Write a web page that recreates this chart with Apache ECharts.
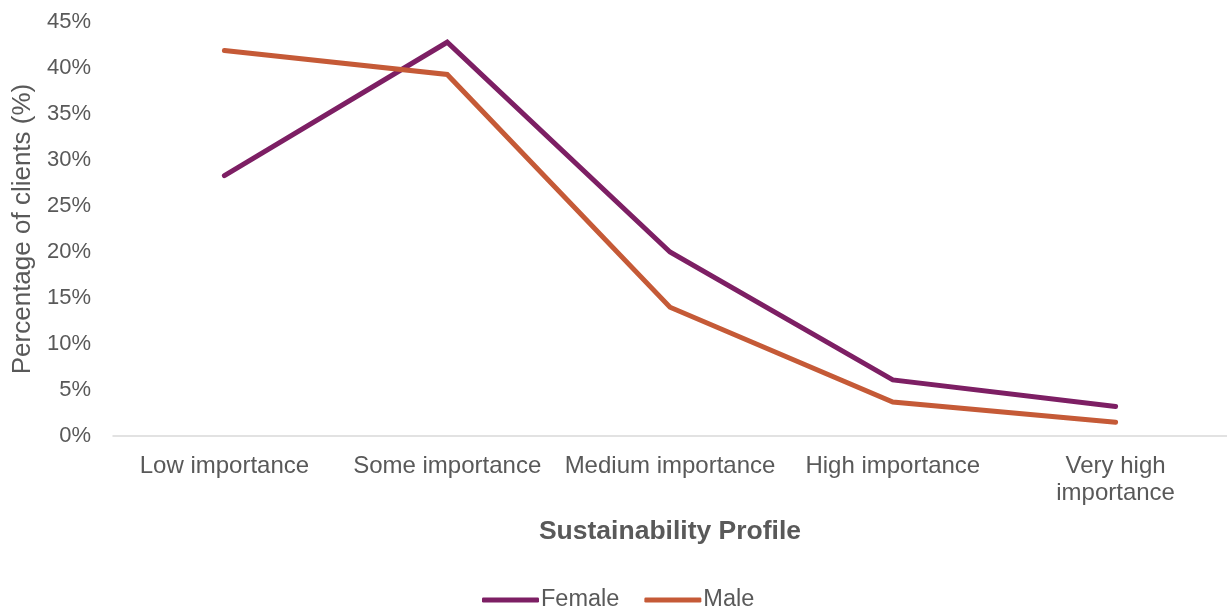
<!DOCTYPE html>
<html>
<head>
<meta charset="utf-8">
<script src="https://cdn.jsdelivr.net/npm/echarts@6/dist/echarts.min.js"></script>
<style>
  html, body { margin: 0; padding: 0; background: #ffffff; }
  #chart { width: 1227px; height: 609px; }
</style>
</head>
<body>
<div id="chart"></div>
<script>
// Share of clients by sustainability profile, split by gender
const categories = ['Low importance', 'Some importance', 'Medium importance', 'High importance', 'Very high\nimportance'];
const female = [28.3, 42.8, 20.0, 6.1, 3.2];
const male = [41.9, 39.3, 14.0, 3.7, 1.5];
const yTicks = { min: 0, max: 45, step: 5 };

const textColor = '#595959';
const fontFamily = '"Liberation Sans", Arial, sans-serif';

const chart = echarts.init(document.getElementById('chart'));
chart.setOption({
  animation: false,
  textStyle: { fontFamily: fontFamily, color: textColor },
  grid: { left: 113, right: 0, top: 22, bottom: 173 },
  legend: {
    top: 583,
    left: 477,
    icon: 'roundRect',
    itemWidth: 57,
    itemHeight: 5,
    itemGap: 25,
    textStyle: { fontSize: 23.5, color: textColor, fontFamily: fontFamily, padding: [0, 0, 0, -3] },
    data: ['Female', 'Male']
  },
  xAxis: {
    type: 'category',
    data: categories,
    boundaryGap: true,
    name: 'Sustainability Profile',
    nameLocation: 'middle',
    nameGap: 82,
    nameTextStyle: { fontSize: 26.5, fontWeight: 'bold', color: textColor, fontFamily: fontFamily },
    axisLine: { lineStyle: { color: '#d9d9d9', width: 1.5 } },
    axisTick: { show: false },
    axisLabel: {
      interval: 0,
      margin: 17,
      fontSize: 24,
      lineHeight: 27,
      color: textColor,
      fontFamily: fontFamily
    }
  },
  yAxis: {
    type: 'value',
    min: yTicks.min,
    max: yTicks.max,
    interval: yTicks.step,
    name: 'Percentage of clients (%)',
    nameLocation: 'middle',
    nameGap: 76,
    nameTextStyle: { fontSize: 26, color: textColor, fontFamily: fontFamily },
    axisLine: { show: false },
    axisTick: { show: false },
    splitLine: { show: false },
    axisLabel: {
      formatter: '{value}%',
      margin: 22,
      fontSize: 22,
      color: textColor,
      fontFamily: fontFamily
    }
  },
  series: [
    {
      name: 'Female',
      type: 'line',
      data: female,
      symbol: 'none',
      color: '#7d1f64',
      lineStyle: { width: 5, color: '#7d1f64', cap: 'round', join: 'miter' }
    },
    {
      name: 'Male',
      type: 'line',
      data: male,
      symbol: 'none',
      color: '#c55a37',
      lineStyle: { width: 5, color: '#c55a37', cap: 'round', join: 'miter' }
    }
  ]
});
</script>
</body>
</html>
